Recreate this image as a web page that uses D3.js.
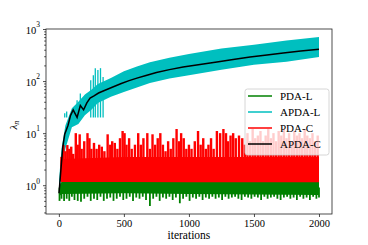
<!DOCTYPE html>
<html>
<head>
<meta charset="utf-8">
<script src="https://cdn.jsdelivr.net/npm/d3@7"></script>
<style>
  body { margin: 0; background: #fff; }
</style>
</head>
<body>
<div id="chart"></div>
<script>
// ticks
var iterTicks = [0, 500, 1000, 1500, 2000];
var yMajor = [1, 10, 100, 1000];

// APDA-C (black)
var apdaCIter = [1, 17, 30, 45, 70, 90, 110, 140, 165, 190, 215, 240, 270, 305, 350, 410, 480, 540, 600, 670, 750, 850, 955, 1085, 1215, 1340, 1470, 1600, 1725, 1860, 2000];
var apdaCVal = [0.7, 2.2, 5.4, 9.5, 14, 22, 28, 20, 34, 28, 38, 47, 52, 59, 66, 76, 90, 102, 114, 128, 146, 166, 186, 208, 232, 260, 290, 318, 345, 378, 410];

// APDA-L (cyan) envelope + early spikes
var apdaLIter = [1, 20, 50, 100, 150, 200, 250, 300, 400, 500, 600, 700, 850, 1000, 1250, 1500, 1750, 2000];
var apdaLLow = [0.7, 1.6, 5, 13, 15, 22, 28, 38, 50, 62, 75, 92, 112, 130, 165, 205, 235, 290];
var apdaLHigh = [1.2, 5, 14, 30, 40, 55, 68, 88, 115, 155, 190, 230, 280, 330, 420, 500, 600, 700];
var apdaLSpikeIter = [45, 60, 140, 165, 245, 265, 280, 300, 320, 340];
var apdaLSpikeVal = [24, 26, 43, 58, 104, 130, 177, 163, 177, 120];

// PDA-C (red) solid band + spikes
var pdaCBandIter = [15, 500, 1000, 1500, 2000];
var pdaCBandLow = [1.15, 1.15, 1.14, 1.14, 1.14];
var pdaCBandHigh = [3.2, 3.5, 3.5, 3.5, 3.5];
var pdaCSpikeIter = [20, 35, 50, 65, 80, 95, 110, 130, 145, 160, 175, 195, 220, 235, 250, 270, 290, 310, 330, 350, 375, 395, 410, 430, 450, 470, 490, 505, 520, 540, 560, 585, 610, 630, 650, 680, 700, 720, 740, 760, 780, 800, 820, 840, 860, 880, 905, 925, 940, 960, 980, 1000, 1020, 1045, 1070, 1090, 1110, 1130, 1150, 1170, 1190, 1215, 1240, 1265, 1285, 1300, 1320, 1340, 1360, 1385, 1410, 1430, 1450, 1470, 1490, 1510, 1530, 1550, 1570, 1590, 1610, 1630, 1650, 1670, 1690, 1710, 1730, 1750, 1770, 1790, 1810, 1830, 1850, 1870, 1890, 1910, 1930, 1950, 1970, 1990];
var pdaCSpikeVal = [3.5, 5.9, 4.5, 5.9, 5, 5.5, 4, 10, 6, 9.5, 5, 7, 10, 8, 5, 6.5, 5, 6, 5.5, 4.5, 9.5, 6, 7, 6.5, 5, 8, 11, 10, 6, 8, 5, 6, 10, 6, 8, 10, 5, 9.5, 6, 8, 10, 6, 4.5, 7, 5, 8, 12, 7, 10, 8, 5, 6, 5, 7, 11, 6, 8, 5, 6, 8, 5, 11, 10, 12, 10, 7, 9, 10, 8, 9, 8, 6, 10, 7, 12, 8, 9, 11, 7, 9, 12, 8, 10, 7, 11, 9, 12, 8, 10, 7, 11, 9, 10, 8, 12, 9, 8, 10, 7, 9];

// PDA-L (green) solid band + downward spikes
var pdaLBandIter = [1, 20, 500, 1000, 1500, 2000];
var pdaLBandLow = [0.6, 0.68, 0.7, 0.68, 0.66, 0.65];
var pdaLBandHigh = [1.0, 1.15, 1.15, 1.15, 1.15, 1.15];
var pdaLSpikeIter = [5, 20, 40, 60, 80, 100, 120, 145, 170, 195, 220, 245, 270, 295, 320, 345, 370, 395, 420, 445, 470, 495, 520, 545, 570, 595, 620, 645, 670, 700, 725, 750, 775, 800, 825, 850, 875, 900, 930, 955, 980, 1005, 1030, 1055, 1080, 1105, 1130, 1155, 1180, 1205, 1230, 1255, 1280, 1305, 1330, 1355, 1380, 1405, 1430, 1455, 1480, 1505, 1530, 1555, 1580, 1605, 1630, 1655, 1680, 1705, 1730, 1755, 1780, 1805, 1830, 1855, 1880, 1905, 1930, 1955, 1980, 2000];
var pdaLSpikeVal = [0.5, 0.55, 0.5, 0.55, 0.5, 0.6, 0.52, 0.5, 0.48, 0.55, 0.6, 0.5, 0.55, 0.52, 0.6, 0.5, 0.55, 0.58, 0.5, 0.55, 0.6, 0.52, 0.55, 0.6, 0.5, 0.58, 0.55, 0.6, 0.52, 0.4, 0.55, 0.6, 0.5, 0.58, 0.55, 0.6, 0.52, 0.58, 0.45, 0.55, 0.6, 0.5, 0.58, 0.55, 0.6, 0.52, 0.58, 0.55, 0.6, 0.55, 0.58, 0.52, 0.6, 0.55, 0.58, 0.6, 0.55, 0.52, 0.6, 0.58, 0.55, 0.6, 0.58, 0.52, 0.6, 0.55, 0.58, 0.6, 0.55, 0.52, 0.58, 0.6, 0.55, 0.58, 0.52, 0.6, 0.55, 0.58, 0.52, 0.6, 0.55, 0.58];

var legendNames = ["PDA-L", "APDA-L", "PDA-C", "APDA-C"];
var colors = ["#008000", "#00bfbf", "#ff0000", "#000000"];

var W = 368, H = 245;
var plot = {left: 46, right: 332, top: 29, bottom: 214};
var serif = "Liberation Serif";

var svg = d3.select("#chart").append("svg")
  .attr("width", W).attr("height", H)
  .attr("font-family", serif);

var x = d3.scaleLinear().domain([-99, 2100]).range([plot.left, plot.right]);
var y = d3.scaleLog().domain([0.28, 1000]).range([plot.bottom, plot.top]);

svg.append("clipPath").attr("id", "clip")
  .append("rect")
  .attr("x", plot.left).attr("y", plot.top)
  .attr("width", plot.right - plot.left).attr("height", plot.bottom - plot.top);

var g = svg.append("g").attr("clip-path", "url(#clip)");

function band(iters, lo, hi) {
  return d3.area()
    .x(function(d, i) { return x(iters[i]); })
    .y0(function(d, i) { return y(lo[i]); })
    .y1(function(d, i) { return y(hi[i]); })(iters);
}

// vertical strokes from a base value to each spike value
function spikes(iters, vals, base, color, w) {
  g.append("g").selectAll("line")
    .data(iters)
    .enter().append("line")
    .attr("x1", function(d) { return x(d); })
    .attr("x2", function(d) { return x(d); })
    .attr("y1", y(base))
    .attr("y2", function(d, i) { return y(vals[i]); })
    .attr("stroke", color)
    .attr("stroke-width", w);
}

// PDA-L
g.append("path").attr("d", band(pdaLBandIter, pdaLBandLow, pdaLBandHigh)).attr("fill", colors[0]);
spikes(pdaLSpikeIter, pdaLSpikeVal, 0.9, colors[0], 1.8);

// APDA-L
g.append("path").attr("d", band(apdaLIter, apdaLLow, apdaLHigh)).attr("fill", colors[1]);
spikes(apdaLSpikeIter, apdaLSpikeVal, 20, colors[1], 1.3);

// PDA-C
g.append("path").attr("d", band(pdaCBandIter, pdaCBandLow, pdaCBandHigh)).attr("fill", colors[2]);
spikes(pdaCSpikeIter, pdaCSpikeVal, 1.2, colors[2], 2.4);

// APDA-C
g.append("path")
  .attr("d", d3.line()
    .x(function(d, i) { return x(apdaCIter[i]); })
    .y(function(d, i) { return y(apdaCVal[i]); })(apdaCIter))
  .attr("fill", "none")
  .attr("stroke", colors[3])
  .attr("stroke-width", 1.5);

// frame
svg.append("rect")
  .attr("x", plot.left).attr("y", plot.top)
  .attr("width", plot.right - plot.left).attr("height", plot.bottom - plot.top)
  .attr("fill", "none").attr("stroke", "#222").attr("stroke-width", 0.8);

// x axis
var xAxis = svg.append("g")
  .attr("transform", "translate(0," + plot.bottom + ")")
  .call(d3.axisBottom(x).tickValues(iterTicks).tickSize(3).tickPadding(3).tickFormat(d3.format("d")));
xAxis.select(".domain").remove();
xAxis.attr("font-family", serif).attr("font-size", 10.5);

// y axis, majors with 10^n labels
var yAxis = svg.append("g")
  .attr("transform", "translate(" + plot.left + ",0)")
  .call(d3.axisLeft(y).tickValues(yMajor).tickSize(3).tickPadding(3).tickFormat(""));
yAxis.select(".domain").remove();
yAxis.attr("font-family", serif).attr("font-size", 10.5);
yAxis.selectAll(".tick text").each(function(d) {
  var t = d3.select(this).attr("dy", "0.4em");
  t.append("tspan").text("10");
  t.append("tspan").attr("font-size", 7.5).attr("dy", "-0.85em").text(Math.round(Math.log10(d)));
});

// minor ticks
var yMinor = [];
[0.1, 1, 10, 100].forEach(function(dec) {
  for (var k = 2; k <= 9; k++) {
    var v = dec * k;
    if (v >= 0.28 && v <= 1000) yMinor.push(v);
  }
});
var yMinorAxis = svg.append("g")
  .attr("transform", "translate(" + plot.left + ",0)")
  .call(d3.axisLeft(y).tickValues(yMinor).tickSize(1.8).tickFormat(""));
yMinorAxis.select(".domain").remove();

svg.selectAll(".tick line").attr("stroke", "#222").attr("stroke-width", 0.8);

// axis labels
svg.append("text")
  .attr("x", x(1000)).attr("y", 239)
  .attr("text-anchor", "middle")
  .attr("font-size", 11.5)
  .text("iterations");

var yl = svg.append("text")
  .attr("transform", "translate(17,125) rotate(-90)")
  .attr("text-anchor", "middle")
  .attr("font-size", 11);
yl.append("tspan").attr("font-style", "italic").text("λ");
yl.append("tspan").attr("font-style", "italic").attr("font-size", 8).attr("dy", "0.3em").text("n");

// legend
var leg = svg.append("g").attr("transform", "translate(245,89)");
leg.append("rect")
  .attr("width", 84).attr("height", 66)
  .attr("rx", 2.5)
  .attr("fill", "#fff").attr("fill-opacity", 0.8)
  .attr("stroke", "#ccc").attr("stroke-width", 0.8);
var rows = leg.selectAll(".row")
  .data(legendNames)
  .enter().append("g")
  .attr("transform", function(d, i) { return "translate(0," + (7 + i * 16) + ")"; });
rows.append("line")
  .attr("x1", 3).attr("x2", 27)
  .attr("stroke", function(d, i) { return colors[i]; })
  .attr("stroke-width", 1.5);
rows.append("text")
  .attr("x", 35).attr("dy", "0.35em")
  .attr("font-size", 11)
  .text(function(d) { return d; });
</script>
</body>
</html>
